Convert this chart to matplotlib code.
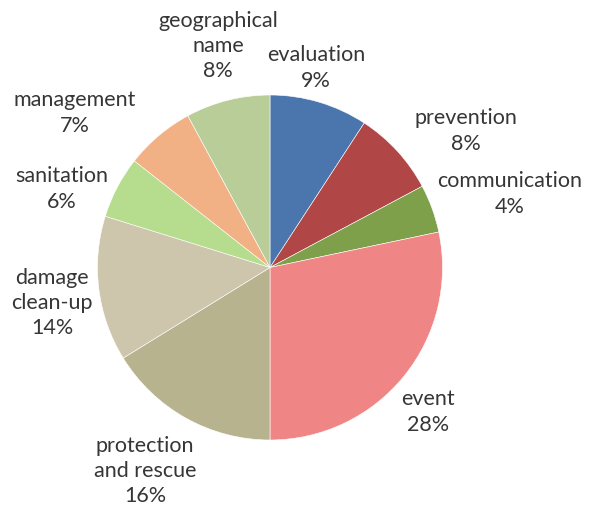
import numpy as np
import matplotlib.pyplot as plt

labels = ['evaluation', 'prevention', 'communication', 'event',
          'protection\nand rescue', 'damage\nclean-up', 'sanitation',
          'management', 'geographical\nname']
# slice sizes as measured off the wedges, and the printed percentages
shares = [9.2, 8.0, 4.5, 28.3, 16.2, 13.6, 5.8, 6.5, 7.9]
pct = [9, 8, 4, 28, 16, 14, 6, 7, 8]
colors = ['#4a76ad', '#b04646', '#7fa04a', '#f08585', '#b7b38f',
          '#cdc5ac', '#b5dd8d', '#f2b184', '#b9cd98']

# label centres in pixel coords (x, y from top)
label_pos = [(316, 68), (466, 131), (510, 194), (428, 412),
             (145, 471), (52, 303), (62, 189), (75, 113), (218, 46)]

W, H = 593, 513
fig = plt.figure(figsize=(W / 100, H / 100), dpi=100)
ax = fig.add_axes([0, 0, 1, 1])

ax.pie(shares, colors=colors, startangle=90, counterclock=False,
       center=(270, H - 267.5), radius=172.5,
       wedgeprops=dict(edgecolor='white', linewidth=0.4))
ax.set_xlim(0, W)
ax.set_ylim(0, H)
ax.set_aspect('equal')
ax.axis('off')

for lab, val, (x, y) in zip(labels, pct, label_pos):
    ax.text(x, H - y, '%s\n%d%%' % (lab, val), ha='center', va='center',
            fontsize=15.5, family='Lato', color='#363636', linespacing=1.32)

fig.savefig('out.png', dpi=100)
